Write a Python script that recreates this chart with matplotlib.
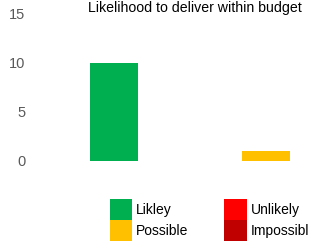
import matplotlib
matplotlib.use("Agg")
import matplotlib.pyplot as plt
import numpy as np

plt.rcParams['font.family'] = ['Liberation Sans', 'DejaVu Sans']

categories = ["A", "B"]
series_names = ["Likley", "Possible", "Unlikely", "Impossibl"]
likley = [10, 0]
possible = [0, 1]
unlikely = [0, 0]
impossibl = [0, 0]
colors = ["#00B050", "#FFC000", "#FF0000", "#C00000"]
yticks = [0, 5, 10, 15]

fig = plt.figure(figsize=(3.09, 2.41), dpi=100)
ax = fig.add_axes([38 / 309, 80.3 / 241, 271 / 309, 147 / 241])

x = np.arange(len(categories))
bottom = np.zeros(len(categories))
handles = []
for name, vals, c in zip(series_names, [likley, possible, unlikely, impossibl], colors):
    b = ax.bar(x, vals, width=0.316, bottom=bottom, color=c, label=name)
    bottom += np.array(vals)
    handles.append(b)

ax.set_xlim(-0.5, 1.283)
ax.set_ylim(0, 15)
ax.set_yticks(yticks)
ax.set_yticklabels([str(t) for t in yticks], fontsize=10.5, color="#595959")
ax.tick_params(axis="y", length=0, pad=9)
ax.set_xticks([])
for s in ax.spines.values():
    s.set_visible(False)

fig.text(195 / 309, 1 - 8 / 241, "Likelihood to deliver within budget",
         ha="center", va="center", fontsize=10.2, color="black")

# legend drawn as two columns of coloured squares
fig.legend(handles, series_names, ncol=2, loc="upper left",
           bbox_to_anchor=(104 / 309, 1 - 193 / 241), frameon=False,
           fontsize=10, handlelength=1.65, handleheight=2.0,
           labelspacing=0, handletextpad=0.25, columnspacing=2.6,
           borderaxespad=0)

fig.savefig("out.png", dpi=100)
